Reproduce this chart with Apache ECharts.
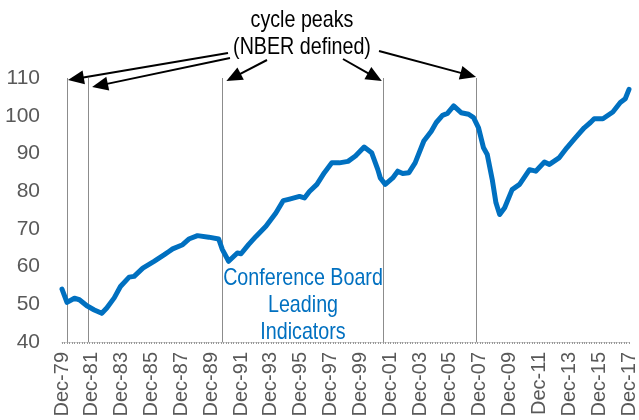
<!DOCTYPE html>
<html>
<head>
<meta charset="utf-8">
<script src="https://cdn.jsdelivr.net/npm/echarts@6/dist/echarts.min.js"></script>
<style>
html, body { margin: 0; padding: 0; background: #fff; }
#main { width: 639px; height: 420px; }
</style>
</head>
<body>
<div id="main"></div>
<script>
// months counted from Dec-79 (0) to Dec-17 (456)
var months = [0, 4, 10, 14, 20, 26, 32, 36, 42, 47, 54, 58, 65, 74, 82, 86, 89, 97, 102, 109,
  118, 126, 129, 134, 141, 144, 150, 156, 164, 172, 178, 183, 191, 195, 199, 205, 211, 217, 223, 230,
  236, 243, 249, 254, 256, 260, 266, 270, 274, 279, 284, 291, 297, 301, 306, 310, 315, 321, 327, 331,
  335, 339, 342, 346, 349, 352, 356, 362, 368, 376, 381, 388, 392, 400, 406, 413, 420, 425, 428, 435,
  443, 449, 453, 456];
var leiValues = [54.0, 50.5, 51.6, 51.2, 49.6, 48.5, 47.6, 49.0, 51.7, 54.7, 57.2, 57.4, 59.6, 61.4, 63.1, 64.0, 64.7, 65.8, 67.3, 68.2,
  67.8, 67.3, 64.5, 61.4, 63.6, 63.4, 65.8, 68.0, 70.7, 74.2, 77.5, 77.9, 78.6, 78.2, 79.9, 81.8, 84.9, 87.5, 87.5, 87.9,
  89.3, 91.7, 90.2, 85.7, 83.5, 81.8, 83.5, 85.3, 84.7, 84.9, 87.5, 93.3, 95.9, 98.2, 100.1, 100.6, 102.6, 100.8, 100.4, 99.5,
  96.8, 91.5, 89.7, 83.1, 76.9, 73.8, 75.6, 80.4, 81.8, 85.7, 85.3, 87.7, 87.1, 88.9, 91.5, 94.2, 96.8, 98.2, 99.2, 99.2,
  101.0, 103.5, 104.5, 107.0];
// NBER cycle peaks (months from Dec-79)
var peakMonths = [4, 21, 129, 258, 333];
var yTicks = [40, 50, 60, 70, 80, 90, 100, 110];

function monthLabel(m) {
  var total = 1979 * 12 + 11 + m;
  var yr = Math.floor(total / 12);
  var names = ['Jan', 'Feb', 'Mar', 'Apr', 'May', 'Jun', 'Jul', 'Aug', 'Sep', 'Oct', 'Nov', 'Dec'];
  return names[total % 12] + '-' + String(yr % 100).padStart(2, '0');
}

var FONT = "'Liberation Sans', Arial, sans-serif";

var chart = echarts.init(document.getElementById('main'));
var option = {
  animation: false,
  grid: { left: 62, right: 8, top: 78, bottom: 78 },
  xAxis: {
    type: 'value',
    min: 0,
    max: 456,
    interval: 24,
    splitLine: { show: false },
    axisLine: { lineStyle: { color: '#d0d0d0', width: 1 } },
    axisTick: { show: true, length: 2, lineStyle: { color: '#999' } },
    minorTick: { show: true, splitNumber: 12, length: 2, lineStyle: { color: '#999' } },
    axisLabel: {
      rotate: 90,
      margin: 10,
      color: '#595959',
      fontSize: 20,
      fontFamily: FONT,
      formatter: function (v) { return monthLabel(v); }
    }
  },
  yAxis: {
    type: 'value',
    min: 40,
    max: 110,
    interval: 10,
    splitLine: { show: false },
    axisLine: { show: false },
    axisTick: { show: false },
    axisLabel: {
      margin: 22,
      color: '#595959',
      fontSize: 21,
      fontFamily: FONT,
      formatter: function (v) { return yTicks.indexOf(v) >= 0 ? String(v) : ''; }
    }
  },
  series: [{
    type: 'line',
    data: months.map(function (m, i) { return [m, leiValues[i]]; }),
    showSymbol: false,
    lineStyle: { color: '#0070C0', width: 5, join: 'round', cap: 'round' },
    z: 3,
    markLine: {
      silent: true,
      symbol: 'none',
      label: { show: false },
      lineStyle: { color: '#8c8c8c', width: 1, type: 'solid' },
      data: peakMonths.map(function (m) { return { xAxis: m }; }),
      z: 1
    }
  }]
};
chart.setOption(option);

// arrow annotations pointing at the tops of the peak lines
function arrow(x1, y1, x2, y2) {
  var dx = x2 - x1, dy = y2 - y1, L = Math.hypot(dx, dy);
  var ux = dx / L, uy = dy / L, hl = 16, hw = 7;
  var bx = x2 - ux * hl, by = y2 - uy * hl;
  return [
    { type: 'line', shape: { x1: x1, y1: y1, x2: bx + ux * 2, y2: by + uy * 2 }, style: { stroke: '#000', lineWidth: 2 } },
    { type: 'polygon', shape: { points: [[x2, y2], [bx - uy * hw, by + ux * hw], [bx + uy * hw, by - ux * hw]] }, style: { fill: '#000' } }
  ];
}
var arrowStarts = [[228, 53], [230, 58], [267, 60], [343, 59], [379, 51]];
var tipOffsets = [[1, 2], [4, 9], [4, 3], [-1, 3], [0, -1]];
var graphics = [];
peakMonths.forEach(function (m, i) {
  var p = chart.convertToPixel({ gridIndex: 0 }, [m, 110]);
  graphics = graphics.concat(arrow(arrowStarts[i][0], arrowStarts[i][1], p[0] + tipOffsets[i][0], p[1] + tipOffsets[i][1]));
});
// narrow look: squeeze Liberation Sans horizontally
graphics.push({
  type: 'text', x: 302, y: 7, scaleX: 0.82,
  style: { text: 'cycle peaks\n(NBER defined)', fill: '#000', font: '24px ' + FONT, textAlign: 'center', lineHeight: 27 }
});
graphics.push({
  type: 'text', x: 303, y: 265, scaleX: 0.82,
  style: { text: 'Conference Board\nLeading\nIndicators', fill: '#0070C0', font: '24px ' + FONT, textAlign: 'center', lineHeight: 27 }
});
chart.setOption({ graphic: graphics });
</script>
</body>
</html>
